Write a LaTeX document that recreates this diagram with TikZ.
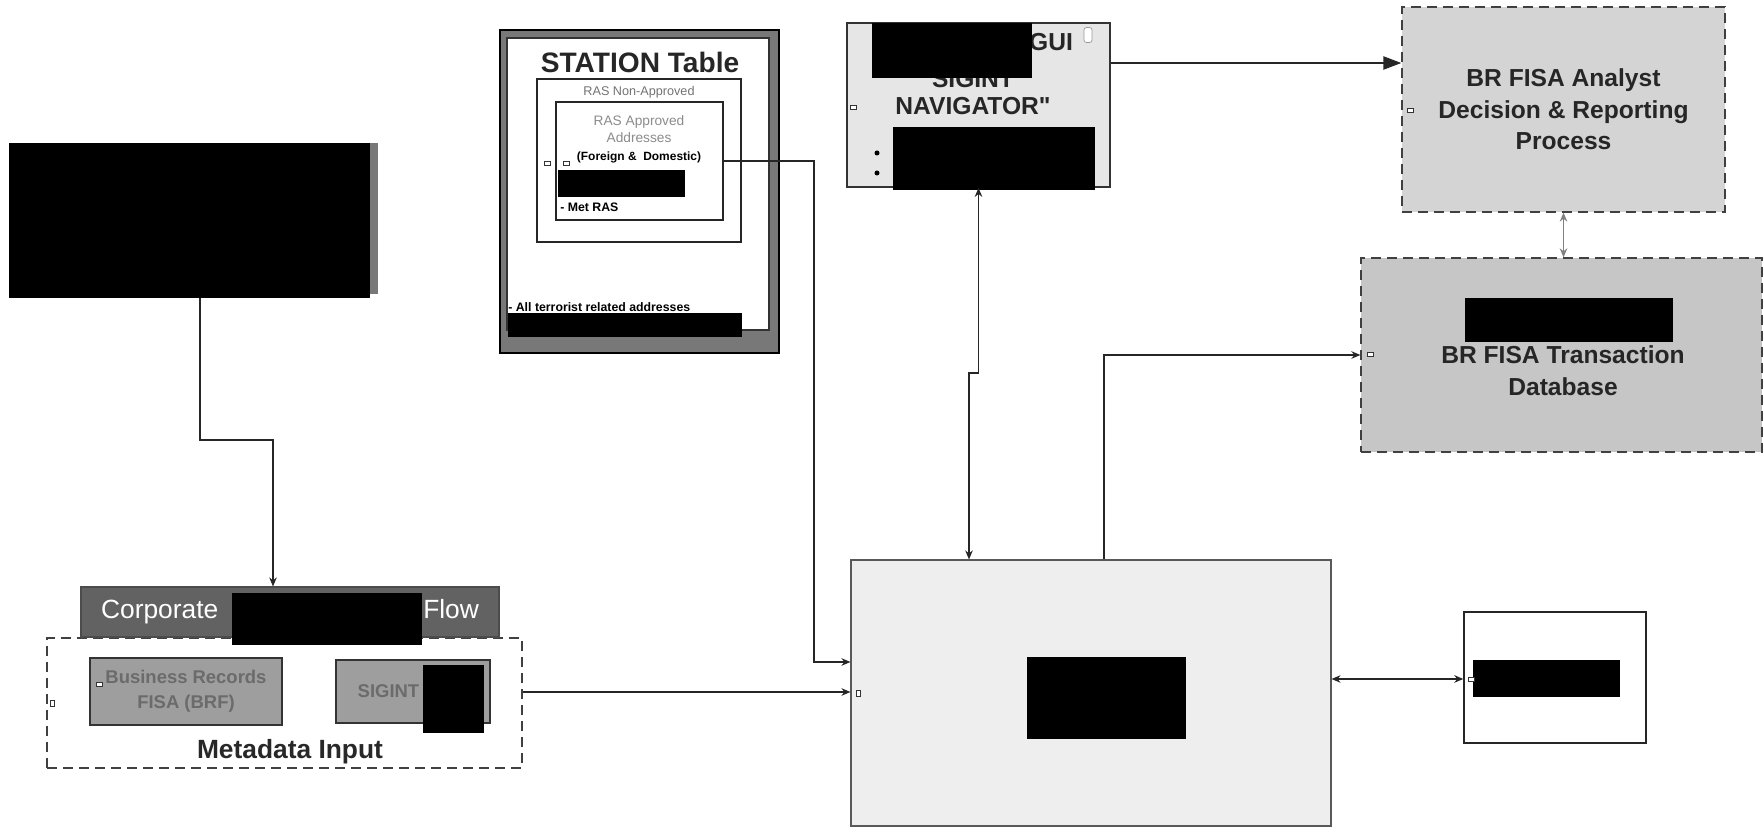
\documentclass[tikz,border=0pt]{standalone}
\usepackage{fontspec}
\setmainfont{Liberation Sans}
\newfontfamily\navfont{Liberation Sans}[Ligatures=TeXOff]
\usetikzlibrary{arrows.meta, positioning, calc}
\definecolor{FrameGray}{RGB}{120,120,120}
\definecolor{BarGray}{RGB}{98,98,98}
\definecolor{TileGray}{RGB}{158,158,158}
\definecolor{PanelGray}{RGB}{238,238,238}
\definecolor{NavGray}{RGB}{230,230,230}
\definecolor{ShadeGray}{RGB}{212,212,212}
\definecolor{ShadeDark}{RGB}{198,198,198}
\definecolor{InkGray}{RGB}{40,40,40}

\begin{document}
\begin{tikzpicture}[x=0.2mm, y=-0.2mm,
    panel/.style={draw=black!65, fill=PanelGray, line width=0.6pt, inner sep=0pt},
    dashbox/.style={draw=black!75, dash pattern=on 2mm off 1.2mm, line width=0.7pt, inner sep=0pt},
    tile/.style={draw=black!80, fill=TileGray, line width=1.1pt, inner sep=0pt,
                 font=\fontsize{10.5}{14}\selectfont\bfseries, text=black!58, align=center},
    plainbox/.style={draw=black!85, fill=white, line width=0.8pt, inner sep=0pt},
    heading/.style={font=\fontsize{14}{18}\selectfont\bfseries, text=InkGray, align=center},
    note/.style={font=\fontsize{7}{9}\selectfont\bfseries, inner sep=0pt},
    port/.style={draw=black!80, fill=white, line width=0.4pt, minimum width=1.2mm,
                 minimum height=0.8mm, inner sep=0pt},
    arrow/.style={-{Stealth[length=1.8mm, width=1.5mm]}, line width=1pt, color=black!85},
    darrow/.style={{Stealth[length=1.8mm, width=1.5mm]}-{Stealth[length=1.8mm, width=1.5mm]},
                   line width=1pt, color=black!85},
    bigarrow/.style={-{Triangle[length=3.6mm, width=2.6mm]}, line width=1.2pt, color=black!85},
]
\fill[white] (0,0) rectangle (1764,833);

\fill[FrameGray] (362,143) rectangle (378,294);
\node[fill=black, inner sep=0pt, minimum width=72.2mm, minimum height=31mm] (srcbox) at (189.5,220.5) {};

\node[dashbox, minimum width=95mm, minimum height=26mm] (meta) at (284.5,703) {};
\node[draw=black!70, fill=BarGray, line width=0.6pt, inner sep=0pt, minimum width=83.6mm,
      minimum height=10mm, font=\fontsize{15}{18}\selectfont, text=white] (corp) at (290,612)
      {Corporate\hspace{41mm}Flow};
\fill[black] (232,593) rectangle (422,645);
\node[tile, minimum width=38.4mm, minimum height=13.4mm] (brf) at (186,691.5) {Business Records\\FISA (BRF)};
\node[tile, minimum width=30.8mm, minimum height=12.6mm] (sig) at (413,691.5) {SIGINT\hspace{9.8mm}};
\fill[black] (423,665) rectangle (484,733);
\node[heading, font=\fontsize{15}{18}\selectfont\bfseries] (metalbl) at (290,752) {Metadata Input};

\node[draw=black, fill=FrameGray, line width=0.6pt, inner sep=0pt, minimum width=55.8mm,
      minimum height=64.6mm] (station) at (639.5,191.5) {};
\node[draw=black!80, fill=white, line width=0.6pt, inner sep=0pt, minimum width=52.4mm,
      minimum height=58.4mm] (stationin) at (638,184) {};
\node[font=\fontsize{16}{18}\selectfont\bfseries, text=black!85] (stationlbl) at (640,62) {STATION Table};
\node[plainbox, minimum width=40.8mm, minimum height=32.6mm] (nonappr) at (639,160.5) {};
\node[font=\fontsize{7.2}{9}\selectfont, text=black!55, inner sep=0pt] (nonapprlbl) at (639,92) {RAS Non-Approved};
\node[plainbox, line width=1pt, minimum width=33.4mm, minimum height=23.6mm] (appr) at (639.5,161) {};
\node[font=\fontsize{7.8}{10}\selectfont, text=black!45, align=center, inner sep=0pt] (apprlbl) at (639,129) {RAS Approved\\Addresses};
\node[note, font=\fontsize{6.8}{9}\selectfont\bfseries] (apprsub) at (639,157) {(Foreign \&\ \ Domestic)};
\fill[black] (558,170) rectangle (685,197);
\node[note, anchor=west] (metras) at (560,207) {- Met RAS};
\node[note, anchor=west] (allterr) at (508,307) {- All terrorist related addresses};
\fill[black] (508,313) rectangle (742,337);

\node[draw=black!80, fill=NavGray, line width=1pt, inner sep=0pt, minimum width=52.6mm,
      minimum height=32.8mm] (nav) at (978.5,105) {};
\node[heading, text=black!85] (navgui) at (1051,42) {GUI};
\node[heading, text=black!85] (navsig) at (973,79) {SIGINT};
\node[heading, text=black!85, font=\navfont\fontsize{14}{18}\selectfont\bfseries] (navlbl) at (973,106) {NAVIGATOR"};
\fill[black] (872,23) rectangle (1032,78);
\fill[black] (893,127) rectangle (1095,190);
\fill[black] (877,153) circle[radius=0.5mm];
\fill[black] (877,173) circle[radius=0.5mm];

\node[dashbox, fill=ShadeGray, minimum width=64.6mm, minimum height=41mm, heading, text=black!85] (analyst)
      at (1563.5,109.5) {BR FISA Analyst\\Decision \& Reporting\\Process};
\node[dashbox, fill=ShadeDark, minimum width=80.2mm, minimum height=38.8mm] (txdb) at (1561.5,355) {};
\fill[black] (1465,298) rectangle (1673,342);
\node[heading, text=black!85] (txdblbl) at (1563,371) {BR FISA Transaction\\Database};

\node[panel, minimum width=96mm, minimum height=53.2mm] (core) at (1091,693) {};
\fill[black] (1027,657) rectangle (1186,739);
\node[plainbox, minimum width=36.4mm, minimum height=26.2mm] (ext) at (1555,677.5) {};
\fill[black] (1473,660) rectangle (1620,697);

\node[port, rotate=90] (p1) at (52,703) {};
\node[port] (p2) at (99,684) {};
\node[port] (p3) at (547,163) {};
\node[port] (p4) at (566,163) {};
\node[port] (p5) at (853,107) {};
\node[port, draw=black!40, minimum width=1.6mm, minimum height=3mm, rounded corners=0.5mm] (p6) at (1088,35) {};
\node[port] (p7) at (1410,110) {};
\node[port] (p8) at (1370,354) {};
\node[port, rotate=90] (p9) at (858,693) {};
\node[port] (p10) at (1471,679) {};

\draw[arrow] ([xshift=2.1mm]srcbox.south) -- ++(0,142) -| ([xshift=-3.4mm]corp.north);
\draw[arrow] ([yshift=2.2mm]meta.east) -- ([yshift=2.2mm]meta.east -| core.west);
\draw[arrow] (appr.east) -- ++(90,0) |- ([yshift=6.2mm]core.west);
\draw[darrow] (nav.south) -- ++(0,185) -| ([xshift=-24.4mm]core.north);
\draw[arrow] ([xshift=2.6mm]core.north) |- (txdb.west);
\draw[bigarrow] ([yshift=8.4mm]nav.east) -- ([yshift=8.4mm]nav.east -| analyst.west);
\draw[darrow, color=black!50, line width=0.8pt] (analyst.south) -- (analyst.south |- txdb.north);
\draw[darrow] ([yshift=2.8mm]core.east) -- ([yshift=2.8mm]core.east -| ext.west);
\end{tikzpicture}
\end{document}
